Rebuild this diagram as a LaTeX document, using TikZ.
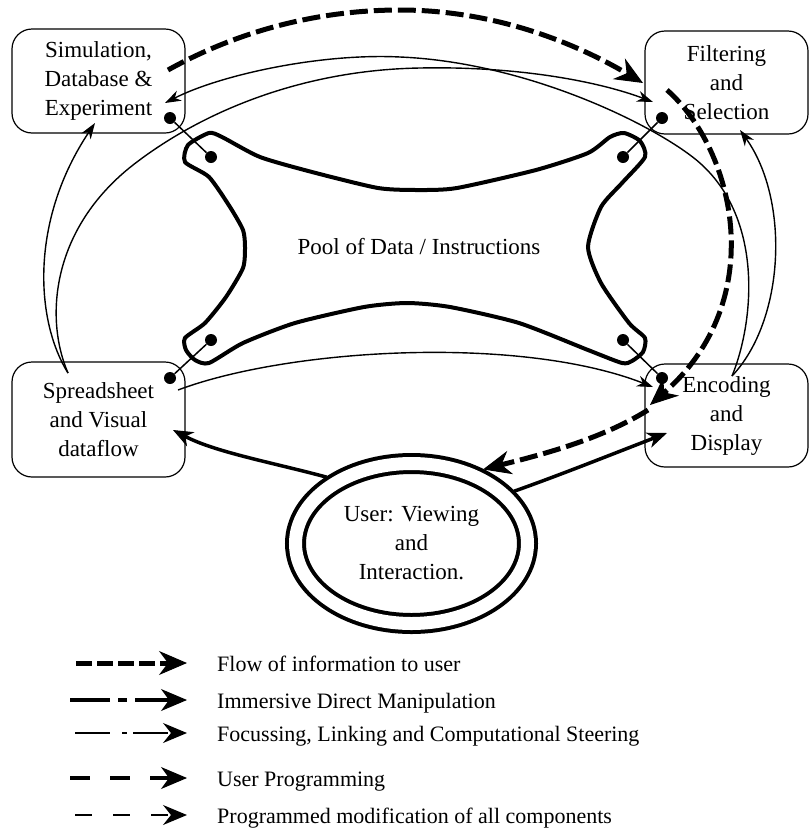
\documentclass[tikz,border=0pt]{standalone}
\usepackage{fontspec}
\setmainfont{Liberation Serif}
\usetikzlibrary{arrows.meta,shapes.geometric}

\begin{document}
\begin{tikzpicture}[x=1pt,y=-1pt,
  every node/.style={font=\fontsize{23}{29}\selectfont},
  box/.style={draw, line width=1.2pt, rounded corners=20pt, align=center, inner sep=0pt},
  dot/.style={circle, fill, inner sep=0pt, minimum size=12pt},
  link/.style={line width=1.4pt, -{Stealth[length=16pt,width=11pt,inset=5pt]}},
  manip/.style={line width=3.5pt, -{Stealth[length=20pt,width=16pt,inset=6pt,line width=1pt]}},
  flow/.style={line width=5pt, dash pattern=on 18pt off 6pt, -{Stealth[length=28pt,width=24pt,inset=9pt,line width=1pt]}},
  key/.style={anchor=base west, inner sep=0pt, font=\fontsize{22}{26}\selectfont}]

\useasboundingbox (0,0) rectangle (809,828);

 \node[box, minimum width=173pt, minimum height=104pt] (S) at (98.5,81) {Simulation,\\Database \&\\Experiment};
 \node[box, minimum width=163pt, minimum height=103pt] (F) at (726.5,82.5) {Filtering\\and\\Selection};
 \node[box, minimum width=173pt, minimum height=115pt] (V) at (98.5,419.5) {Spreadsheet\\and Visual\\dataflow};
 \node[box, minimum width=163pt, minimum height=103pt] (E) at (726.5,415.5) {Encoding\\and\\Display};
 \node[ellipse, draw, double, double distance=13pt, line width=4pt, minimum width=232pt, minimum height=160pt, inner sep=0pt, outer sep=10pt, align=center] (U) at (411.5,543.5) {User: Viewing\\and\\Interaction.};

 % pool
 \draw[line width=4pt] plot[smooth cycle, tension=0.4] coordinates {
  (185,162) (188,145) (209,133) (222,137) (260,157) (312,172) (378,188) (419,190) (457,188) (536,170) (588,153)
  (610,137) (624,133) (640,141) (645,157) (622,183) (601,207) (588,247) (601,283) (629,323)
  (645,338) (643,352) (632,361) (622,363) (588,350) (519,323) (450,307) (407,303) (364,307) (295,323) (243,343)
  (209,363) (195,360) (186,350) (185,338) (205,323) (226,297) (243,268) (245,247) (243,230) (230,207) (209,177)};
 \node (P) at (419,247) {Pool of Data / Instructions};

 \node[dot] (sd) at (170,118) {};
 \node[dot] (sp) at (211,157) {};
 \node[dot] (fd) at (662,118) {};
 \node[dot] (fp) at (623,157) {};
 \node[dot] (vd) at (170,378) {};
 \node[dot] (vp) at (211,340) {};
 \node[dot] (ed) at (662,378) {};
 \node[dot] (ep) at (623,340) {};
 \draw[line width=1.5pt] (sd) -- (sp);
 \draw[line width=1.5pt] (fd) -- (fp);
 \draw[line width=1.5pt] (vd) -- (vp);
 \draw[line width=1.5pt] (ed) -- (ep);

 \coordinate (so) at (168,70);
 \coordinate (s1) at (165,103);
 \coordinate (s2) at (95,123);
 \coordinate (f1) at (653,102);
 \coordinate (f2) at (740,130);
 \coordinate (f3) at (643,83);
 \coordinate (fo) at (667,90);
 \coordinate (vo) at (68,373);
 \coordinate (v1) at (178,390);
 \coordinate (v2) at (173,430);
 \coordinate (eo) at (732,376);
 \coordinate (e1) at (653,387);
 \coordinate (e2) at (650,405);
 \coordinate (e3) at (667,433);
 \coordinate (e4) at (648,410);

 \draw[link] (eo) .. controls (755,320) and (765,210) .. (690,155) .. controls (640,118) and (520,62) .. (400,57) .. controls (320,53) and (220,75) .. (s1);
 \draw[link] (vo) .. controls (45,320) and (50,230) .. (133,165) .. controls (200,113) and (300,70) .. (420,68) .. controls (520,66) and (600,82) .. (f1);
 \draw[link] (vo) .. controls (35,320) and (30,220) .. (s2);
 \draw[link] (eo) .. controls (785,320) and (790,200) .. (f2);
 \draw[link] (v1) .. controls (290,348) and (520,335) .. (e1);
 \draw[manip] (U.142) .. controls (270,462) and (215,452) .. (v2);
 \draw[manip] (U.27) .. controls (560,475) and (610,455) .. (e3);
 \draw[flow] (so) .. controls (240,30) and (320,10) .. (400,10) .. controls (490,10) and (570,40) .. (f3);
 \draw[flow] (fo) .. controls (735,150) and (770,300) .. (e2);
 \draw[flow] (e4) .. controls (600,440) and (540,455) .. (U.46);

 % legend
 \node[key] (l1) at (217,671) {Flow of information to user};
 \node[key] (l2) at (217,708) {Immersive Direct Manipulation};
 \node[key] (l3) at (217,741) {Focussing, Linking and Computational Steering};
 \node[key] (l4) at (217,786) {User Programming};
 \node[key] (l5) at (217,823) {Programmed modification of all components};
 \draw[flow, dash pattern=on 16pt off 5pt] ([shift={(-141,-8)}]l1.base west) -- ([shift={(-30,-8)}]l1.base west);
 \draw[line width=4pt, dash pattern=on 40pt off 8pt on 9pt off 8pt, -{Stealth[length=26pt,width=22pt,inset=8pt,line width=1pt]}] ([shift={(-147,-8)}]l2.base west) -- ([shift={(-30,-8)}]l2.base west);
 \draw[line width=1.3pt, dash pattern=on 35pt off 12pt on 5pt off 6pt, -{Stealth[length=24pt,width=20pt,inset=8pt]}] ([shift={(-142,-8)}]l3.base west) -- ([shift={(-30,-8)}]l3.base west);
 \draw[line width=4pt, dash pattern=on 20pt off 20pt, -{Stealth[length=26pt,width=22pt,inset=8pt,line width=1pt]}] ([shift={(-147,-8)}]l4.base west) -- ([shift={(-30,-8)}]l4.base west);
 \draw[line width=1.5pt, dash pattern=on 17pt off 21pt, -{Stealth[length=24pt,width=20pt,inset=8pt]}] ([shift={(-142,-8)}]l5.base west) -- ([shift={(-30,-8)}]l5.base west);

\end{tikzpicture}
\end{document}
